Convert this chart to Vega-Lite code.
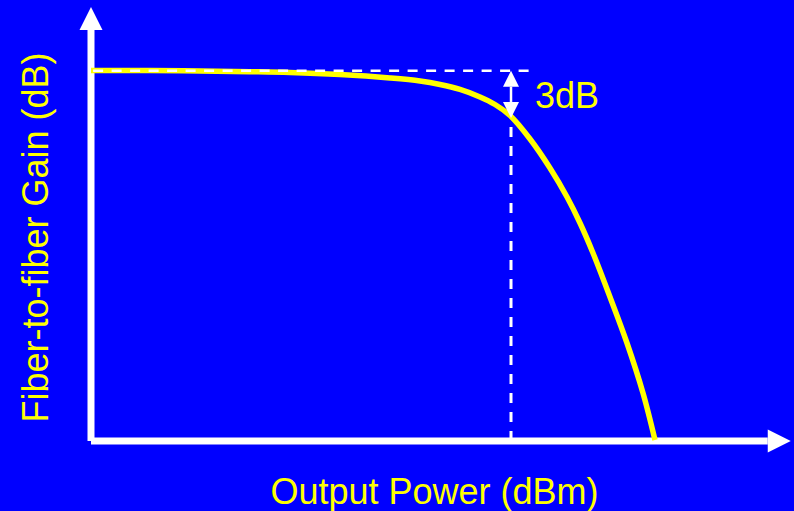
{
  "$schema": "https://vega.github.io/schema/vega-lite/v6.json",
  "autosize": {"type": "none"},
  "width": 702,
  "height": 433,
  "padding": {"left": 91, "top": 8, "right": 1, "bottom": 70},
  "background": "#0000FF",
  "config": {
    "view": {"stroke": null},
    "axis": {
      "domain": false, "ticks": false, "labels": false, "grid": false,
      "titleFont": "Liberation Sans", "titleFontSize": 36, "titleFontWeight": "normal",
      "titleColor": "#FFFF00"
    }
  },
  "datasets": {
    "axes": [
      {"power": 0, "gain": 0, "power2": 0, "gain2": 94.9},
      {"power": 0, "gain": 0, "power2": 96.4, "gain2": 0}
    ],
    "upTip": [{"power": 0, "gain": 94.9}],
    "rightTip": [{"power": 96.4, "gain": 0}],
    "vdash": [{"power": 59.83, "gain": 0, "power2": 59.83, "gain2": 74.8}],
    "hdash": [{"power": 0.3, "gain": 85.5, "power2": 62.82, "gain2": 85.5}],
    "gainCurve": [
      {"power": 0, "gain": 85.57},
      {"power": 8.4, "gain": 85.54},
      {"power": 15.53, "gain": 85.45},
      {"power": 22.65, "gain": 85.29},
      {"power": 28.35, "gain": 85.1},
      {"power": 35.47, "gain": 84.62},
      {"power": 42.59, "gain": 83.83},
      {"power": 46.87, "gain": 83.14},
      {"power": 49.72, "gain": 82.33},
      {"power": 52.56, "gain": 81.18},
      {"power": 55.41, "gain": 79.45},
      {"power": 57.55, "gain": 77.71},
      {"power": 59.69, "gain": 75.17},
      {"power": 62.54, "gain": 69.75},
      {"power": 65.38, "gain": 63.05},
      {"power": 67.81, "gain": 56.35},
      {"power": 69.66, "gain": 50.35},
      {"power": 71.51, "gain": 43.42},
      {"power": 73.93, "gain": 33.26},
      {"power": 76.35, "gain": 22.63},
      {"power": 78.63, "gain": 11.09},
      {"power": 80.34, "gain": 0.23}
    ],
    "dbShaft": [{"power": 59.83, "gain": 81.83, "power2": 59.83, "gain2": 78.3}],
    "dbTop": [{"power": 59.83, "gain": 81.83}],
    "dbBottom": [{"power": 59.83, "gain": 78.3}],
    "dbLabel": [{"power": 63.25, "gain": 76.9, "label": "3dB"}]
  },
  "encoding": {
    "x": {
      "field": "power", "type": "quantitative",
      "scale": {"domain": [0, 100], "nice": false, "zero": false},
      "axis": {"title": "Output Power (dBm)", "titleX": 343, "titleY": 62, "titleAlign": "center", "titleBaseline": "alphabetic", "titleAngle": 0}
    },
    "y": {
      "field": "gain", "type": "quantitative",
      "scale": {"domain": [0, 100], "nice": false, "zero": false},
      "axis": {"title": "Fiber-to-fiber Gain (dB)", "titleX": -44, "titleY": 229, "titleAlign": "center", "titleBaseline": "alphabetic", "titleAngle": 270}
    }
  },
  "layer": [
    {
      "data": {"name": "axes"},
      "mark": {"type": "rule", "color": "#FFFFFF", "strokeWidth": 7, "strokeCap": "butt"},
      "encoding": {"x2": {"field": "power2"}, "y2": {"field": "gain2"}}
    },
    {
      "data": {"name": "upTip"},
      "mark": {"type": "point", "shape": "M0,-2L1,0L-1,0Z", "size": 529, "filled": true, "opacity": 1, "color": "#FFFFFF", "strokeWidth": 0}
    },
    {
      "data": {"name": "rightTip"},
      "mark": {"type": "point", "shape": "M2,0L0,-1L0,1Z", "size": 529, "filled": true, "opacity": 1, "color": "#FFFFFF", "strokeWidth": 0}
    },
    {
      "data": {"name": "vdash"},
      "mark": {"type": "rule", "color": "#FFFFFF", "strokeWidth": 3, "strokeDash": [10, 9]},
      "encoding": {"x2": {"field": "power2"}, "y2": {"field": "gain2"}}
    },
    {
      "data": {"name": "gainCurve"},
      "mark": {"type": "line", "color": "#FFFF00", "strokeWidth": 5.5, "interpolate": "catmull-rom", "strokeCap": "butt"}
    },
    {
      "data": {"name": "hdash"},
      "mark": {"type": "rule", "color": "#FFFFFF", "strokeWidth": 2.5, "strokeDash": [10, 8.5]},
      "encoding": {"x2": {"field": "power2"}, "y2": {"field": "gain2"}}
    },
    {
      "data": {"name": "dbShaft"},
      "mark": {"type": "rule", "color": "#FFFFFF", "strokeWidth": 2.5},
      "encoding": {"x2": {"field": "power2"}, "y2": {"field": "gain2"}}
    },
    {
      "data": {"name": "dbTop"},
      "mark": {"type": "point", "shape": "M0,-2L1,0L-1,0Z", "size": 256, "filled": true, "opacity": 1, "color": "#FFFFFF", "strokeWidth": 0}
    },
    {
      "data": {"name": "dbBottom"},
      "mark": {"type": "point", "shape": "M0,2L1,0L-1,0Z", "size": 256, "filled": true, "opacity": 1, "color": "#FFFFFF", "strokeWidth": 0}
    },
    {
      "data": {"name": "dbLabel"},
      "mark": {"type": "text", "color": "#FFFF00", "font": "Liberation Sans", "fontSize": 36, "align": "left", "baseline": "alphabetic"},
      "encoding": {"text": {"field": "label"}}
    }
  ]
}
